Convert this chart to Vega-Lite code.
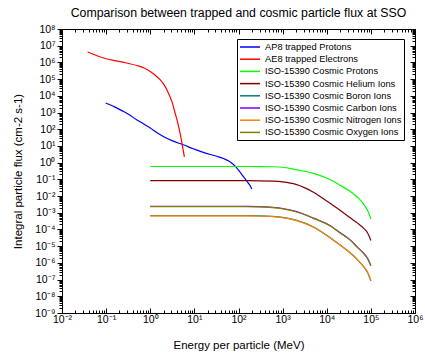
{
  "$schema": "https://vega.github.io/schema/vega-lite/v6.json",
  "width": 353,
  "height": 284,
  "autosize": {"type": "none"},
  "padding": {"left": 62, "top": 29, "right": 10, "bottom": 45},
  "background": "white",
  "config": {
    "font": "Liberation Sans",
    "view": {"stroke": "black", "strokeWidth": 1},
    "axis": {"domain": false, "grid": false, "tickColor": "black", "labelColor": "black", "titleColor": "black", "labelFont": "Liberation Sans", "titleFont": "Liberation Sans", "titleFontWeight": "normal"}
  },
  "title": {"text": "Comparison between trapped and cosmic particle flux at SSO", "fontSize": 12.3, "fontWeight": "normal", "font": "Liberation Sans", "color": "black", "offset": 5},
  "data": {"values": [
    {"s": "AP8 trapped Protons", "e": 0.098, "f": 3700},
    {"s": "AP8 trapped Protons", "e": 0.16, "f": 2100},
    {"s": "AP8 trapped Protons", "e": 0.245, "f": 1170},
    {"s": "AP8 trapped Protons", "e": 0.35, "f": 680},
    {"s": "AP8 trapped Protons", "e": 0.49, "f": 370},
    {"s": "AP8 trapped Protons", "e": 0.7, "f": 210},
    {"s": "AP8 trapped Protons", "e": 1.0, "f": 118},
    {"s": "AP8 trapped Protons", "e": 1.4, "f": 64},
    {"s": "AP8 trapped Protons", "e": 1.98, "f": 37},
    {"s": "AP8 trapped Protons", "e": 3.2, "f": 20},
    {"s": "AP8 trapped Protons", "e": 5.6, "f": 11.8},
    {"s": "AP8 trapped Protons", "e": 9.5, "f": 6.8},
    {"s": "AP8 trapped Protons", "e": 16, "f": 4.1},
    {"s": "AP8 trapped Protons", "e": 32, "f": 2.4},
    {"s": "AP8 trapped Protons", "e": 47, "f": 1.7},
    {"s": "AP8 trapped Protons", "e": 60, "f": 1.25},
    {"s": "AP8 trapped Protons", "e": 72, "f": 0.9},
    {"s": "AP8 trapped Protons", "e": 85, "f": 0.6},
    {"s": "AP8 trapped Protons", "e": 100, "f": 0.36},
    {"s": "AP8 trapped Protons", "e": 118, "f": 0.2},
    {"s": "AP8 trapped Protons", "e": 140, "f": 0.11},
    {"s": "AP8 trapped Protons", "e": 165, "f": 0.062},
    {"s": "AP8 trapped Protons", "e": 185, "f": 0.04},
    {"s": "AP8 trapped Protons", "e": 200, "f": 0.026},
    {"s": "AE8 trapped Electrons", "e": 0.038, "f": 4200000},
    {"s": "AE8 trapped Electrons", "e": 0.06, "f": 2600000},
    {"s": "AE8 trapped Electrons", "e": 0.1, "f": 1660000},
    {"s": "AE8 trapped Electrons", "e": 0.18, "f": 1200000},
    {"s": "AE8 trapped Electrons", "e": 0.29, "f": 920000},
    {"s": "AE8 trapped Electrons", "e": 0.5, "f": 650000},
    {"s": "AE8 trapped Electrons", "e": 0.75, "f": 450000},
    {"s": "AE8 trapped Electrons", "e": 1.0, "f": 290000},
    {"s": "AE8 trapped Electrons", "e": 1.3, "f": 170000},
    {"s": "AE8 trapped Electrons", "e": 1.67, "f": 92000},
    {"s": "AE8 trapped Electrons", "e": 2.1, "f": 42000},
    {"s": "AE8 trapped Electrons", "e": 2.57, "f": 15000},
    {"s": "AE8 trapped Electrons", "e": 3.1, "f": 4500},
    {"s": "AE8 trapped Electrons", "e": 3.65, "f": 940},
    {"s": "AE8 trapped Electrons", "e": 4.2, "f": 240},
    {"s": "AE8 trapped Electrons", "e": 4.74, "f": 59},
    {"s": "AE8 trapped Electrons", "e": 5.3, "f": 12},
    {"s": "AE8 trapped Electrons", "e": 5.94, "f": 2.2},
    {"s": "ISO-15390 Cosmic Protons", "e": 1, "f": 0.59},
    {"s": "ISO-15390 Cosmic Protons", "e": 10, "f": 0.59},
    {"s": "ISO-15390 Cosmic Protons", "e": 100, "f": 0.59},
    {"s": "ISO-15390 Cosmic Protons", "e": 300, "f": 0.585},
    {"s": "ISO-15390 Cosmic Protons", "e": 600, "f": 0.57},
    {"s": "ISO-15390 Cosmic Protons", "e": 1000, "f": 0.53},
    {"s": "ISO-15390 Cosmic Protons", "e": 2000, "f": 0.38},
    {"s": "ISO-15390 Cosmic Protons", "e": 5000, "f": 0.23},
    {"s": "ISO-15390 Cosmic Protons", "e": 10000, "f": 0.12},
    {"s": "ISO-15390 Cosmic Protons", "e": 20000, "f": 0.045},
    {"s": "ISO-15390 Cosmic Protons", "e": 35000, "f": 0.018},
    {"s": "ISO-15390 Cosmic Protons", "e": 55000, "f": 0.0065},
    {"s": "ISO-15390 Cosmic Protons", "e": 70000, "f": 0.003},
    {"s": "ISO-15390 Cosmic Protons", "e": 85000, "f": 0.0013},
    {"s": "ISO-15390 Cosmic Protons", "e": 100000, "f": 0.00042},
    {"s": "ISO-15390 Cosmic Helium Ions", "e": 1, "f": 0.083},
    {"s": "ISO-15390 Cosmic Helium Ions", "e": 10, "f": 0.083},
    {"s": "ISO-15390 Cosmic Helium Ions", "e": 100, "f": 0.083},
    {"s": "ISO-15390 Cosmic Helium Ions", "e": 300, "f": 0.082},
    {"s": "ISO-15390 Cosmic Helium Ions", "e": 600, "f": 0.078},
    {"s": "ISO-15390 Cosmic Helium Ions", "e": 1000, "f": 0.07},
    {"s": "ISO-15390 Cosmic Helium Ions", "e": 2000, "f": 0.05},
    {"s": "ISO-15390 Cosmic Helium Ions", "e": 5000, "f": 0.017},
    {"s": "ISO-15390 Cosmic Helium Ions", "e": 10000, "f": 0.005},
    {"s": "ISO-15390 Cosmic Helium Ions", "e": 20000, "f": 0.0014},
    {"s": "ISO-15390 Cosmic Helium Ions", "e": 34000, "f": 0.0005},
    {"s": "ISO-15390 Cosmic Helium Ions", "e": 50000, "f": 0.00024},
    {"s": "ISO-15390 Cosmic Helium Ions", "e": 68000, "f": 0.00012},
    {"s": "ISO-15390 Cosmic Helium Ions", "e": 85000, "f": 0.00006},
    {"s": "ISO-15390 Cosmic Helium Ions", "e": 100000, "f": 0.000022},
    {"s": "ISO-15390 Cosmic Boron Ions", "e": 1, "f": 0.00067},
    {"s": "ISO-15390 Cosmic Boron Ions", "e": 10, "f": 0.00067},
    {"s": "ISO-15390 Cosmic Boron Ions", "e": 100, "f": 0.00067},
    {"s": "ISO-15390 Cosmic Boron Ions", "e": 300, "f": 0.00066},
    {"s": "ISO-15390 Cosmic Boron Ions", "e": 600, "f": 0.00061},
    {"s": "ISO-15390 Cosmic Boron Ions", "e": 1000, "f": 0.00053},
    {"s": "ISO-15390 Cosmic Boron Ions", "e": 2000, "f": 0.00036},
    {"s": "ISO-15390 Cosmic Boron Ions", "e": 5000, "f": 0.00014},
    {"s": "ISO-15390 Cosmic Boron Ions", "e": 12000, "f": 0.000032},
    {"s": "ISO-15390 Cosmic Boron Ions", "e": 20000, "f": 0.0000118},
    {"s": "ISO-15390 Cosmic Boron Ions", "e": 34000, "f": 0.000004},
    {"s": "ISO-15390 Cosmic Boron Ions", "e": 50000, "f": 0.00000152},
    {"s": "ISO-15390 Cosmic Boron Ions", "e": 68000, "f": 0.00000061},
    {"s": "ISO-15390 Cosmic Boron Ions", "e": 85000, "f": 0.00000025},
    {"s": "ISO-15390 Cosmic Boron Ions", "e": 100000, "f": 0.000000084},
    {"s": "ISO-15390 Cosmic Carbon Ions", "e": 1, "f": 0.0024},
    {"s": "ISO-15390 Cosmic Carbon Ions", "e": 10, "f": 0.0024},
    {"s": "ISO-15390 Cosmic Carbon Ions", "e": 100, "f": 0.0024},
    {"s": "ISO-15390 Cosmic Carbon Ions", "e": 300, "f": 0.00235},
    {"s": "ISO-15390 Cosmic Carbon Ions", "e": 600, "f": 0.0021},
    {"s": "ISO-15390 Cosmic Carbon Ions", "e": 1000, "f": 0.0018},
    {"s": "ISO-15390 Cosmic Carbon Ions", "e": 2000, "f": 0.0012},
    {"s": "ISO-15390 Cosmic Carbon Ions", "e": 5000, "f": 0.00048},
    {"s": "ISO-15390 Cosmic Carbon Ions", "e": 12000, "f": 0.000166},
    {"s": "ISO-15390 Cosmic Carbon Ions", "e": 20000, "f": 0.000065},
    {"s": "ISO-15390 Cosmic Carbon Ions", "e": 34000, "f": 0.000024},
    {"s": "ISO-15390 Cosmic Carbon Ions", "e": 50000, "f": 0.0000085},
    {"s": "ISO-15390 Cosmic Carbon Ions", "e": 68000, "f": 0.0000039},
    {"s": "ISO-15390 Cosmic Carbon Ions", "e": 85000, "f": 0.0000018},
    {"s": "ISO-15390 Cosmic Carbon Ions", "e": 100000, "f": 0.00000069},
    {"s": "ISO-15390 Cosmic Nitrogen Ions", "e": 1, "f": 0.00065},
    {"s": "ISO-15390 Cosmic Nitrogen Ions", "e": 10, "f": 0.00065},
    {"s": "ISO-15390 Cosmic Nitrogen Ions", "e": 100, "f": 0.00065},
    {"s": "ISO-15390 Cosmic Nitrogen Ions", "e": 300, "f": 0.00064},
    {"s": "ISO-15390 Cosmic Nitrogen Ions", "e": 600, "f": 0.00059},
    {"s": "ISO-15390 Cosmic Nitrogen Ions", "e": 1000, "f": 0.00051},
    {"s": "ISO-15390 Cosmic Nitrogen Ions", "e": 2000, "f": 0.00035},
    {"s": "ISO-15390 Cosmic Nitrogen Ions", "e": 5000, "f": 0.000135},
    {"s": "ISO-15390 Cosmic Nitrogen Ions", "e": 12000, "f": 0.000031},
    {"s": "ISO-15390 Cosmic Nitrogen Ions", "e": 20000, "f": 0.0000115},
    {"s": "ISO-15390 Cosmic Nitrogen Ions", "e": 34000, "f": 0.0000039},
    {"s": "ISO-15390 Cosmic Nitrogen Ions", "e": 50000, "f": 0.0000015},
    {"s": "ISO-15390 Cosmic Nitrogen Ions", "e": 68000, "f": 0.00000062},
    {"s": "ISO-15390 Cosmic Nitrogen Ions", "e": 85000, "f": 0.00000026},
    {"s": "ISO-15390 Cosmic Nitrogen Ions", "e": 100000, "f": 0.000000089},
    {"s": "ISO-15390 Cosmic Oxygen Ions", "e": 1, "f": 0.0023},
    {"s": "ISO-15390 Cosmic Oxygen Ions", "e": 10, "f": 0.0023},
    {"s": "ISO-15390 Cosmic Oxygen Ions", "e": 100, "f": 0.0023},
    {"s": "ISO-15390 Cosmic Oxygen Ions", "e": 300, "f": 0.00226},
    {"s": "ISO-15390 Cosmic Oxygen Ions", "e": 600, "f": 0.00202},
    {"s": "ISO-15390 Cosmic Oxygen Ions", "e": 1000, "f": 0.00173},
    {"s": "ISO-15390 Cosmic Oxygen Ions", "e": 2000, "f": 0.00115},
    {"s": "ISO-15390 Cosmic Oxygen Ions", "e": 5000, "f": 0.00046},
    {"s": "ISO-15390 Cosmic Oxygen Ions", "e": 12000, "f": 0.00016},
    {"s": "ISO-15390 Cosmic Oxygen Ions", "e": 20000, "f": 0.000062},
    {"s": "ISO-15390 Cosmic Oxygen Ions", "e": 34000, "f": 0.000023},
    {"s": "ISO-15390 Cosmic Oxygen Ions", "e": 50000, "f": 0.0000082},
    {"s": "ISO-15390 Cosmic Oxygen Ions", "e": 68000, "f": 0.0000037},
    {"s": "ISO-15390 Cosmic Oxygen Ions", "e": 85000, "f": 0.0000017},
    {"s": "ISO-15390 Cosmic Oxygen Ions", "e": 100000, "f": 0.00000066}
  ]},
  "layer": [
    {
      "mark": {"type": "line", "strokeWidth": 1.2, "interpolate": "monotone", "clip": true},
      "encoding": {
        "x": {"field": "e", "type": "quantitative", "scale": {"type": "log", "domain": [0.01, 1000000], "nice": false},
          "axis": {"orient": "bottom", "title": "Energy per particle (MeV)", "titleFontSize": 11.5, "titlePadding": 15,
            "values": [0.01, 0.1, 1, 10, 100, 1000, 10000, 100000, 1000000], "tickSize": -5, "labelPadding": 6, "labelFontSize": 10.5, "labelFlush": false, "labelOverlap": false,
            "labelExpr": "'10' + (datum.value < 0.99 ? '⁻' : '') + ['⁰','¹','²','³','⁴','⁵','⁶','⁷','⁸','⁹'][abs(round(log(datum.value)/LN10))]"}},
        "y": {"field": "f", "type": "quantitative", "scale": {"type": "log", "domain": [1e-9, 1e8], "nice": false},
          "axis": {"orient": "left", "title": "Integral particle flux (cm-2 s-1)", "titleFontSize": 11.5, "titleX": -39,
            "values": [1e-9, 1e-8, 1e-7, 1e-6, 1e-5, 1e-4, 1e-3, 1e-2, 1e-1, 1, 10, 100, 1000, 10000, 100000, 1000000, 10000000, 100000000], "tickSize": 5, "labelPadding": 2, "labelFontSize": 10.5, "labelFlush": false, "labelOverlap": false,
            "labelExpr": "'10' + (datum.value < 0.99 ? '⁻' : '') + ['⁰','¹','²','³','⁴','⁵','⁶','⁷','⁸','⁹'][abs(round(log(datum.value)/LN10))]"}},
        "color": {"field": "s", "type": "nominal",
          "scale": {"domain": ["AP8 trapped Protons", "AE8 trapped Electrons", "ISO-15390 Cosmic Protons", "ISO-15390 Cosmic Helium Ions", "ISO-15390 Cosmic Boron Ions", "ISO-15390 Cosmic Carbon Ions", "ISO-15390 Cosmic Nitrogen Ions", "ISO-15390 Cosmic Oxygen Ions"],
            "range": ["#0000ff", "#ff0000", "#00ff00", "#800000", "#008080", "#8000ff", "#ff8000", "#808000"]},
          "legend": {"title": null, "orient": "none", "legendX": 175, "legendY": 10, "strokeColor": "black", "fillColor": "white", "padding": 2,
            "symbolType": "M-1,0H3", "symbolSize": 100, "symbolStrokeWidth": 1.5, "labelOffset": 14, "labelFontSize": 9.3, "labelFont": "Liberation Sans", "labelColor": "black", "rowPadding": 0.2, "labelLimit": 200}}
      }
    },
    {
      "mark": {"type": "point", "opacity": 0},
      "encoding": {
        "x": {"field": "e", "type": "quantitative", "axis": {"orient": "top", "title": null, "labels": false, "values": [0.01, 0.1, 1, 10, 100, 1000, 10000, 100000, 1000000], "tickSize": -5}},
        "y": {"field": "f", "type": "quantitative", "axis": {"orient": "right", "title": null, "labels": false, "values": [1e-9, 1e-8, 1e-7, 1e-6, 1e-5, 1e-4, 1e-3, 1e-2, 1e-1, 1, 10, 100, 1000, 10000, 100000, 1000000, 10000000, 100000000], "tickSize": -5}}
      }
    },
    {
      "mark": {"type": "point", "opacity": 0},
      "encoding": {
        "x": {"field": "e", "type": "quantitative", "axis": {"orient": "bottom", "title": null, "labels": false, "tickSize": -3,
          "values": [0.02,0.03,0.04,0.05,0.06,0.07,0.08,0.09,0.2,0.3,0.4,0.5,0.6,0.7,0.8,0.9,2,3,4,5,6,7,8,9,20,30,40,50,60,70,80,90,200,300,400,500,600,700,800,900,2000,3000,4000,5000,6000,7000,8000,9000,20000,30000,40000,50000,60000,70000,80000,90000,200000,300000,400000,500000,600000,700000,800000,900000]}},
        "y": {"field": "f", "type": "quantitative", "axis": {"orient": "left", "title": null, "labels": false, "tickSize": 3,
          "values": [2e-9,3e-9,4e-9,5e-9,6e-9,7e-9,8e-9,9e-9,2e-8,3e-8,4e-8,5e-8,6e-8,7e-8,8e-8,9e-8,2e-7,3e-7,4e-7,5e-7,6e-7,7e-7,8e-7,9e-7,2e-6,3e-6,4e-6,5e-6,6e-6,7e-6,8e-6,9e-6,2e-5,3e-5,4e-5,5e-5,6e-5,7e-5,8e-5,9e-5,2e-4,3e-4,4e-4,5e-4,6e-4,7e-4,8e-4,9e-4,2e-3,3e-3,4e-3,5e-3,6e-3,7e-3,8e-3,9e-3,0.02,0.03,0.04,0.05,0.06,0.07,0.08,0.09,0.2,0.3,0.4,0.5,0.6,0.7,0.8,0.9,2,3,4,5,6,7,8,9,20,30,40,50,60,70,80,90,200,300,400,500,600,700,800,900,2000,3000,4000,5000,6000,7000,8000,9000,20000,30000,40000,50000,60000,70000,80000,90000,200000,300000,400000,500000,600000,700000,800000,900000,2000000,3000000,4000000,5000000,6000000,7000000,8000000,9000000,20000000,30000000,40000000,50000000,60000000,70000000,80000000,90000000]}}
      }
    },
    {
      "mark": {"type": "point", "opacity": 0},
      "encoding": {
        "x": {"field": "e", "type": "quantitative", "axis": {"orient": "top", "title": null, "labels": false, "tickSize": -3,
          "values": [0.02,0.03,0.04,0.05,0.06,0.07,0.08,0.09,0.2,0.3,0.4,0.5,0.6,0.7,0.8,0.9,2,3,4,5,6,7,8,9,20,30,40,50,60,70,80,90,200,300,400,500,600,700,800,900,2000,3000,4000,5000,6000,7000,8000,9000,20000,30000,40000,50000,60000,70000,80000,90000,200000,300000,400000,500000,600000,700000,800000,900000]}},
        "y": {"field": "f", "type": "quantitative", "axis": {"orient": "right", "title": null, "labels": false, "tickSize": -3,
          "values": [2e-9,3e-9,4e-9,5e-9,6e-9,7e-9,8e-9,9e-9,2e-8,3e-8,4e-8,5e-8,6e-8,7e-8,8e-8,9e-8,2e-7,3e-7,4e-7,5e-7,6e-7,7e-7,8e-7,9e-7,2e-6,3e-6,4e-6,5e-6,6e-6,7e-6,8e-6,9e-6,2e-5,3e-5,4e-5,5e-5,6e-5,7e-5,8e-5,9e-5,2e-4,3e-4,4e-4,5e-4,6e-4,7e-4,8e-4,9e-4,2e-3,3e-3,4e-3,5e-3,6e-3,7e-3,8e-3,9e-3,0.02,0.03,0.04,0.05,0.06,0.07,0.08,0.09,0.2,0.3,0.4,0.5,0.6,0.7,0.8,0.9,2,3,4,5,6,7,8,9,20,30,40,50,60,70,80,90,200,300,400,500,600,700,800,900,2000,3000,4000,5000,6000,7000,8000,9000,20000,30000,40000,50000,60000,70000,80000,90000,200000,300000,400000,500000,600000,700000,800000,900000,2000000,3000000,4000000,5000000,6000000,7000000,8000000,9000000,20000000,30000000,40000000,50000000,60000000,70000000,80000000,90000000]}}
      }
    }
  ],
  "resolve": {"axis": {"x": "independent", "y": "independent"}}
}
